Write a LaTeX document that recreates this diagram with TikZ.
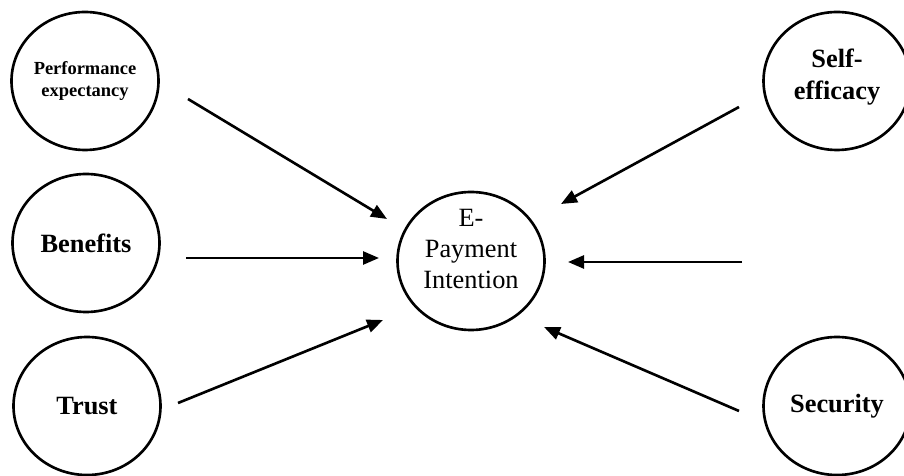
\documentclass[tikz,border=0pt]{standalone}
\usepackage{fontspec}
\setmainfont{Liberation Serif}
\usetikzlibrary{arrows.meta, shapes.geometric}

\begin{document}
\begin{tikzpicture}[
    >={Triangle[length=3.2mm, width=2.6mm]},
    factor/.style={draw, ellipse, line width=1.5pt, minimum width=2.94cm,
                   minimum height=2.76cm, inner sep=0pt, align=center,
                   font=\fontsize{15}{18}\selectfont\bfseries},
    arr/.style={->, line width=1.5pt},
]
\useasboundingbox (0, 0) rectangle (18.08, 9.5);

% ---- Left factors ----
\node[factor, font=\fontsize{10.5}{12}\selectfont\bfseries] (perf) at (1.70, 7.88)
    {Performance\\expectancy};
\node[factor] (bene) at (1.72, 4.64) {Benefits};
\node[factor] (trust) at (1.74, 1.38) {Trust};

% ---- Right factors ----
\node[factor, text depth=0.26cm] (self) at (16.74, 7.88) {Self-\\efficacy};
\node[factor] (secur) at (16.74, 1.38) {Security};

% ---- Intention ----
\node[factor, font=\fontsize{15}{17.5}\selectfont, text depth=0.48cm,
      inner ysep=-0.2cm] (epay) at (9.42, 4.28)
    {E-\\Payment\\Intention};

% ---- Arrow ends ----
\coordinate (perf-out) at (3.76, 7.52);
\coordinate (perf-in) at (7.74, 5.12);
\coordinate (bene-out) at (3.72, 4.34);
\coordinate (bene-in) at (7.58, 4.34);
\coordinate (trust-out) at (3.56, 1.44);
\coordinate (trust-in) at (7.66, 3.10);
\coordinate (self-out) at (14.78, 7.36);
\coordinate (self-in) at (11.22, 5.42);
\coordinate (mid-out) at (14.84, 4.26);
\coordinate (mid-in) at (11.36, 4.26);
\coordinate (secur-out) at (14.78, 1.28);
\coordinate (secur-in) at (10.88, 2.96);

% ---- Arrows ----
\draw[arr] (perf-out) -- (perf-in);
\draw[arr] (bene-out) -- (bene-in);
\draw[arr] (trust-out) -- (trust-in);
\draw[arr] (self-out) -- (self-in);
\draw[arr] (mid-out) -- (mid-in);
\draw[arr] (secur-out) -- (secur-in);

\end{tikzpicture}
\end{document}
